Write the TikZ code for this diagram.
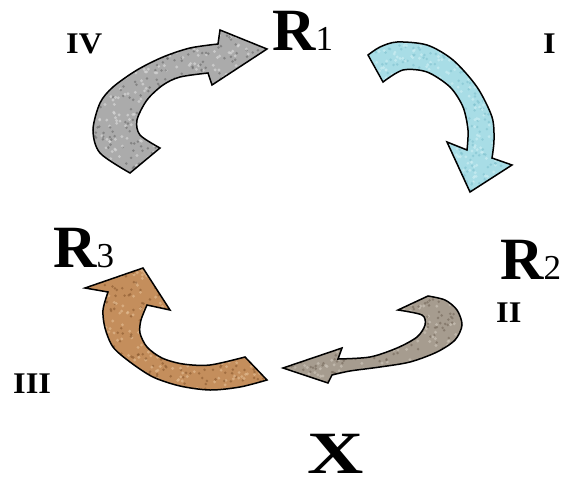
\documentclass[tikz,border=0pt]{standalone}
\usepackage{fontspec}
\setmainfont{Liberation Serif}
\begin{document}
\begin{tikzpicture}[x=1pt,y=-1pt,
  bigR/.style={font=\fontsize{60}{60}\selectfont\bfseries, inner sep=0pt, anchor=base west},
  numeral/.style={font=\fontsize{30}{30}\selectfont\bfseries, inner sep=0pt, anchor=base west, xscale=1.08},
  outline/.style={draw=black, line width=1.5pt, line join=miter}]
\useasboundingbox (0,0) rectangle (566,483);
\def\sub#1{{\fontsize{35}{35}\selectfont\mdseries #1}}
% label nodes
\node[bigR] (r1) at (272,50) {R\sub{1}};
\node[bigR] (r2) at (500,279) {R\sub{2}};
\node[bigR] (r3) at (53,267) {R\sub{3}};
\node[bigR, anchor=base, xscale=1.3, text depth=0pt] (x) at (336,473) {X};
\node[numeral] (n4) at (66,53) {IV};
\node[numeral] (n1) at (543,53) {I};
\node[numeral] (n2) at (496,322) {II};
\node[numeral] (n3) at (13,393) {III};
% arrow shapes
\def\arrIV{(130,173) -- plot[smooth] coordinates {(130,173)(100,153)(93,130)(100,103)(113,87)(137,70)(163,57)(190,48)(218,44)} -- (220,30) -- (267,49) -- (212,85) -- (208,73) -- plot[smooth] coordinates {(208,73)(180,77)(163,85)(147,100)(137,120)(140,135)(160,148)} -- cycle}
\def\arrI{(368,55) -- plot[smooth] coordinates {(368,55)(380,47)(397,42)(427,45)(453,60)(477,87)(492,117)(494,140)(492,158)} -- (512,165) -- (470,192) -- (447,142) -- (467,150) -- plot[smooth] coordinates {(467,150)(468,130)(463,107)(450,87)(427,72)(403,70)(383,82)} -- cycle}
\def\arrII{(398,310) -- (428,296) -- plot[smooth] coordinates {(428,296)(445,300)(457,310)(462,325)(455,340)(437,352)(410,362)(380,367)(350,371)(332,375)} -- (328,383) -- (283,368) -- (342,348) -- (338,359) -- plot[smooth] coordinates {(338,359)(370,357)(397,348)(417,337)(425,325)(422,315)(398,310)} -- cycle}
\def\arrIII{(245,357) -- (267,380) -- plot[smooth] coordinates {(267,380)(240,387)(210,390)(180,386)(153,377)(130,362)(113,347)(105,328)(103,310)(108,292)} -- (85,288) -- (143,268) -- (170,310) -- (147,305) -- plot[smooth] coordinates {(147,305)(141,320)(140,333)(147,347)(162,358)(183,364)(210,365)(245,357)} -- cycle}
\definecolor{cIV}{HTML}{ABABAB}
\definecolor{cIVd}{HTML}{6A6A6A}
\definecolor{cIVl}{HTML}{DADADA}
\definecolor{cI}{HTML}{A8DDE6}
\definecolor{cId}{HTML}{80C2CF}
\definecolor{cIl}{HTML}{CDEEF3}
\definecolor{cII}{HTML}{A69C8F}
\definecolor{cIId}{HTML}{74685A}
\definecolor{cIIl}{HTML}{CDC5BA}
\definecolor{cIII}{HTML}{C48E5C}
\definecolor{cIIId}{HTML}{8A5A30}
\definecolor{cIIIl}{HTML}{E2BC92}
\pgfmathsetseed{7}
\newcommand\texarrow[7]{% path, base, dark, light, xmin, ymin, size
  \fill[#2] #1;
  \begin{scope}
    \clip #1;
    \foreach \k in {1,...,450}{
      \pgfmathsetmacro\px{#5+rnd*#7}
      \pgfmathsetmacro\py{#6+rnd*#7}
      \fill[#3, opacity=0.6] (\px,\py) circle (1.4);
      \pgfmathsetmacro\qx{#5+rnd*#7}
      \pgfmathsetmacro\qy{#6+rnd*#7}
      \fill[#4, opacity=0.65] (\qx,\qy) circle (1.6);
    }
  \end{scope}
  \draw[outline] #1;
}
\texarrow{\arrIV}{cIV}{cIVd}{cIVl}{85}{25}{185}
\texarrow{\arrI}{cI}{cId}{cIl}{365}{38}{155}
\texarrow{\arrII}{cII}{cIId}{cIIl}{280}{292}{185}
\texarrow{\arrIII}{cIII}{cIIId}{cIIIl}{82}{265}{188}
\end{tikzpicture}
\end{document}
